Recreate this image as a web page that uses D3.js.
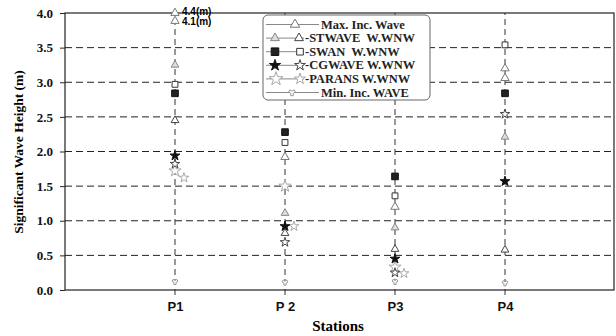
<!DOCTYPE html>
<html lang="en">
<head>
<meta charset="UTF-8">
<title>wave heights</title>
<script src="https://cdn.jsdelivr.net/npm/d3@7"></script>
<style>
  body { margin: 0; background: #fff; }
  svg { display: block; }
</style>
</head>
<body>
<div id="chart"></div>
<script>
// stations and tick labels
var stations = ["P1", "P 2", "P3", "P4"];
var yTicks = [0, 0.5, 1, 1.5, 2, 2.5, 3, 3.5, 4];

// wave heights (m), one value per station
var maxIncW    = [4.4, 1.92, 1.20, 3.20];
var maxIncWNW  = [4.1, null, null, 3.06];
var stwaveW    = [3.25, 1.11, 0.90, 2.21];
var stwaveWNW  = [2.45, 0.82, 0.59, 0.58];
var swanW      = [2.84, 2.28, 1.64, 2.84];
var swanWNW    = [2.97, 2.13, 1.36, 3.54];
var cgwaveW    = [1.94, 0.92, 0.45, 1.57];
var cgwaveWNW  = [1.82, 0.69, 0.25, 2.54];
var paransW    = [1.72, 1.50, 0.33, null];
var paransWNW  = [1.62, 0.92, 0.24, null];
var minInc     = [0.12, 0.11, 0.12, 0.10];

var legendLabels = ["Max. Inc. Wave", "-STWAVE  W.WNW", "-SWAN  W.WNW", "-CGWAVE W.WNW", "-PARANS W.WNW", "Min. Inc. WAVE"];

var W = 616, H = 336;
var margin = {left: 65, right: 1, top: 13, bottom: 46};

var svg = d3.select("#chart").append("svg").attr("width", W).attr("height", H);

var x = d3.scaleLinear().domain([0, 5]).range([margin.left, W - margin.right]);
var y = d3.scaleLinear().domain([0, 4]).range([H - margin.bottom, margin.top]);

var serif = "'Liberation Serif', 'DejaVu Serif', serif";
var sans = "'Liberation Sans', Arial, sans-serif";

// horizontal dashed grid
svg.append("g").selectAll("line")
  .data(yTicks.filter(function (d) { return d > 0 && d < 4; }))
  .enter().append("line")
  .attr("x1", x(0)).attr("x2", x(5))
  .attr("y1", function (d) { return y(d); })
  .attr("y2", function (d) { return y(d); })
  .attr("stroke", "#222").attr("stroke-width", 1)
  .attr("stroke-dasharray", "7,4");

// vertical dashed lines at stations
svg.append("g").selectAll("line")
  .data(stations)
  .enter().append("line")
  .attr("x1", function (d, i) { return x(i + 1); })
  .attr("x2", function (d, i) { return x(i + 1); })
  .attr("y1", y(0) + 5).attr("y2", y(4))
  .attr("stroke", "#333").attr("stroke-width", 1)
  .attr("stroke-dasharray", "6,4");

// frame
svg.append("rect")
  .attr("x", x(0)).attr("y", y(4))
  .attr("width", x(5) - x(0) - 1).attr("height", y(0) - y(4))
  .attr("fill", "none").attr("stroke", "#222").attr("stroke-width", 1.2);

// y axis
var yAxis = svg.append("g")
  .attr("transform", "translate(" + x(0) + ",0)")
  .call(d3.axisLeft(y).tickValues(yTicks).tickFormat(d3.format(".1f")).tickSize(5).tickPadding(7));
yAxis.select(".domain").remove();
yAxis.selectAll("text").attr("font-family", serif).attr("font-weight", "bold").attr("font-size", 13).attr("fill", "#111");
yAxis.selectAll("line").attr("stroke", "#222");

// x axis labels
var xAxis = svg.append("g")
  .attr("transform", "translate(0," + y(0) + ")")
  .call(d3.axisBottom(x).tickValues([1, 2, 3, 4]).tickFormat(function (d) { return stations[d - 1]; }).tickSize(0).tickPadding(12));
xAxis.select(".domain").remove();
xAxis.selectAll("text").attr("font-family", sans).attr("font-weight", "bold").attr("font-size", 13).attr("fill", "#111");

// axis titles
svg.append("text")
  .attr("x", 338).attr("y", 331)
  .attr("text-anchor", "middle")
  .attr("font-family", serif).attr("font-weight", "bold").attr("font-size", 15)
  .text("Stations");
svg.append("text")
  .attr("transform", "translate(23," + 152 + ")rotate(-90)")
  .attr("text-anchor", "middle")
  .attr("font-family", serif).attr("font-weight", "bold").attr("font-size", 13.5)
  .text("Significant Wave Height (m)");

// marker styles
var styles = {
  maxInc:    {type: d3.symbolTriangle, size: 30, fill: "#fff", stroke: "#777"},
  stwaveW:   {type: d3.symbolTriangle, size: 26, fill: "#ddd", stroke: "#888"},
  stwaveWNW: {type: d3.symbolTriangle, size: 26, fill: "#fff", stroke: "#444"},
  swanW:     {type: d3.symbolSquare, size: 44, fill: "#222", stroke: "#111"},
  swanWNW:   {type: d3.symbolSquare, size: 34, fill: "#fff", stroke: "#333"},
  cgwaveW:   {type: d3.symbolStar, size: 30, fill: "#111", stroke: "#111"},
  cgwaveWNW: {type: d3.symbolStar, size: 28, fill: "#fff", stroke: "#444"},
  paransW:   {type: d3.symbolStar, size: 46, fill: "#fff", stroke: "#aaa"},
  paransWNW: {type: d3.symbolStar, size: 30, fill: "#fff", stroke: "#aaa"},
  minInc:    {type: d3.symbolWye, size: 16, fill: "#fff", stroke: "#999"}
};

var series = [
  {key: "minInc", values: minInc, dx: 0},
  {key: "paransW", values: paransW, dx: 0},
  {key: "paransWNW", values: paransWNW, dx: 9},
  {key: "cgwaveWNW", values: cgwaveWNW, dx: 0},
  {key: "cgwaveW", values: cgwaveW, dx: 0},
  {key: "stwaveW", values: stwaveW, dx: 0},
  {key: "stwaveWNW", values: stwaveWNW, dx: 0},
  {key: "maxInc", values: maxIncW, dx: 0},
  {key: "maxInc", values: maxIncWNW, dx: 0},
  {key: "swanWNW", values: swanWNW, dx: 0},
  {key: "swanW", values: swanW, dx: 0}
];

// values above the axis are pinned to the top, stacked down
var offTop = [];
series.forEach(function (s) {
  var st = styles[s.key];
  s.values.forEach(function (v, i) {
    if (v == null) return;
    var yy;
    if (v > 4) {
      var n = offTop.filter(function (o) { return o.i === i; }).length;
      offTop.push({i: i, v: v});
      yy = y(4) + n * 8;
    } else {
      yy = y(v);
    }
    svg.append("path")
      .attr("d", d3.symbol().type(st.type).size(st.size)())
      .attr("transform", "translate(" + (x(i + 1) + s.dx) + "," + yy + ")")
      .attr("fill", st.fill).attr("stroke", st.stroke).attr("stroke-width", 1);
  });
});

// labels for pinned values, largest first
offTop.sort(function (a, b) { return b.v - a.v; });
offTop.forEach(function (o, k) {
  svg.append("text")
    .attr("x", x(o.i + 1) + 7).attr("y", y(4) + 2 + k * 9.5)
    .attr("font-family", sans).attr("font-weight", "bold").attr("font-size", 10)
    .text(d3.format(".1f")(o.v) + "(m)");
});

// legend
var lg = svg.append("g").attr("transform", "translate(263,15)");
lg.append("rect")
  .attr("width", 167).attr("height", 85).attr("rx", 5)
  .attr("fill", "#fff").attr("stroke", "#666").attr("stroke-width", 1);

var legendRows = [
  {marks: [{k: "maxInc", x: 32}], lineEnd: 56, tx: 58},
  {marks: [{k: "stwaveW", x: 12}, {k: "stwaveWNW", x: 36}], lineEnd: 41, tx: 42},
  {marks: [{k: "swanW", x: 12}, {k: "swanWNW", x: 37}], lineEnd: 41, tx: 42},
  {marks: [{k: "cgwaveW", x: 12}, {k: "cgwaveWNW", x: 37}], lineEnd: 41, tx: 42},
  {marks: [{k: "paransW", x: 13}, {k: "paransWNW", x: 37}], lineEnd: 41, tx: 42},
  {marks: [{k: "minInc", x: 29}], lineEnd: 56, tx: 58}
];

legendRows.forEach(function (r, i) {
  var ry = 9.5 + i * 13.6;
  lg.append("line")
    .attr("x1", 3).attr("x2", r.lineEnd).attr("y1", ry).attr("y2", ry)
    .attr("stroke", "#888").attr("stroke-width", 1);
  r.marks.forEach(function (m) {
    var st = styles[m.k];
    lg.append("path")
      .attr("d", d3.symbol().type(st.type).size(st.size * 1.3)())
      .attr("transform", "translate(" + m.x + "," + ry + ")")
      .attr("fill", st.fill).attr("stroke", st.stroke);
  });
  lg.append("text")
    .attr("x", r.tx).attr("y", ry + 4)
    .attr("font-family", serif).attr("font-size", 12.5).attr("font-weight", "bold")
    .attr("fill", "#222")
    .style("white-space", "pre")
    .text(legendLabels[i]);
});
</script>
</body>
</html>
